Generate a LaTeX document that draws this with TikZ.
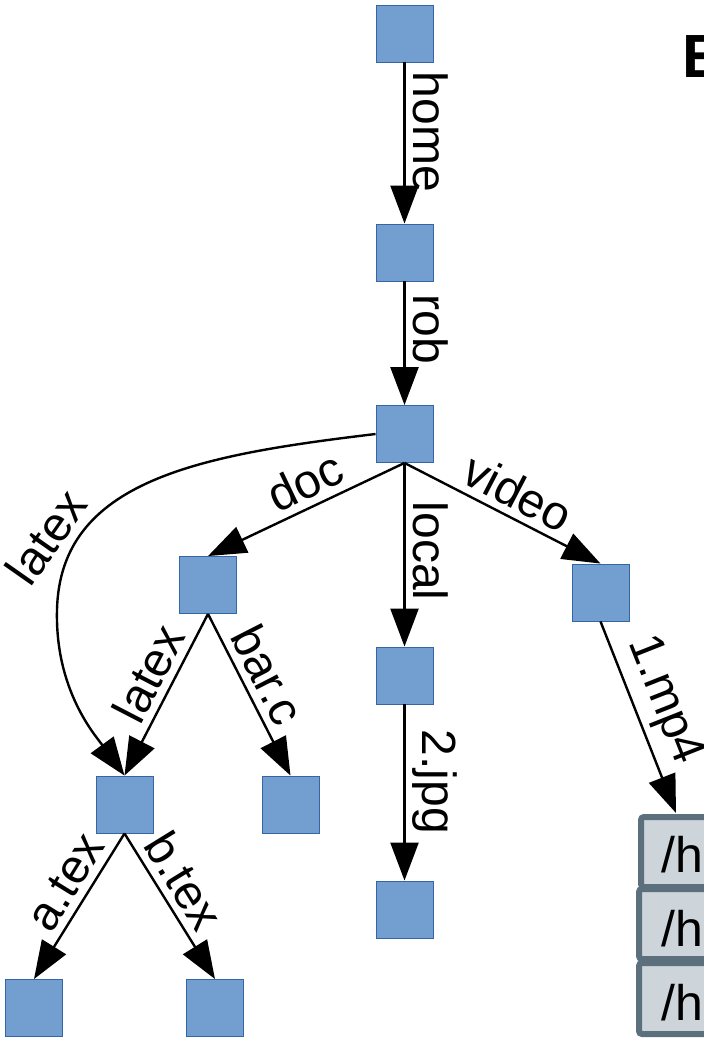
\documentclass[tikz,border=0pt]{standalone}
\usepackage{fontspec}
\setmainfont{Liberation Sans}
\usetikzlibrary{arrows.meta}
\definecolor{boxfill}{HTML}{729FCF}
\definecolor{boxline}{HTML}{3465A4}
\definecolor{pathfill}{HTML}{CDD4DA}
\definecolor{pathline}{HTML}{5C6F7C}
\begin{document}
\begin{tikzpicture}[x=1pt,y=-1pt,
  dirnode/.style={rectangle, draw=boxline, fill=boxfill, line width=0.9pt,
                  minimum size=57pt, inner sep=0pt},
  edge/.style={draw=black, line width=2.4pt, -{Triangle[length=38pt,width=28pt]}},
  lbl/.style={font=\fontsize{48}{52}\selectfont, inner sep=7pt},
  pathrow/.style={draw=pathline, fill=pathfill, line width=6pt, rounded corners=3pt},
  pathtext/.style={font=\fontsize{50}{53}\selectfont, inner sep=0pt, anchor=base west}
]
\useasboundingbox (0,0) rectangle (704,1042);

% directory tree nodes
\node[dirnode] (root)  at (404.5,33.5)  {};
\node[dirnode] (home)  at (404.5,252.5) {};
\node[dirnode] (rob)   at (404.5,434)   {};
\node[dirnode] (doc)   at (208,585)     {};
\node[dirnode] (local) at (404.5,675.5) {};
\node[dirnode] (video) at (600.5,592.5) {};
\node[dirnode] (latex) at (124.5,804.5) {};
\node[dirnode] (barc)  at (290.5,804.5) {};
\node[dirnode] (jpg)   at (404.5,909.5) {};
\node[dirnode] (atex)  at (34,1008)     {};
\node[dirnode] (btex)  at (215,1008)    {};

% path table on the right
\draw[pathrow] (641,817) rectangle (740,887);
\draw[pathrow] (639,889) rectangle (740,959);
\draw[pathrow] (639,963) rectangle (740,1034);
\node[pathtext] (p1) at (661,872)  {/h};
\node[pathtext] (p2) at (661,946)  {/h};
\node[pathtext] (p3) at (661,1020) {/h};
\coordinate (mpend) at (676,813);

% heading
\node[font=\fontsize{61}{64}\selectfont\bfseries, inner sep=0pt, anchor=base west]
  (title) at (682.5,77) {E};

% edges
\draw[edge] (root.south) -- node[lbl, pos=0.43, rotate=-90, anchor=south] {home} (home.north);
\draw[edge] (home.south) -- node[lbl, pos=0.39, rotate=-90, anchor=south] {rob} (rob.north);
\draw[edge] (rob.south) -- node[lbl, pos=0.45, rotate=25.6, anchor=south] {doc} (doc.north);
\draw[edge] (rob.south) -- node[lbl, pos=0.48, rotate=-90, anchor=south] {local} (local.north);
\draw[edge] (rob.south) -- node[lbl, pos=0.52, rotate=-27.5, anchor=south] {video} (video.north);
\draw[edge] (rob.west) .. controls (200,455) and (60,480) .. (57,610)
            .. controls (55,690) and (95,735) .. (latex.north);
\node[lbl, rotate=55] (curvelbl) at (46,537) {latex};
\draw[edge] (doc.south) -- node[lbl, pos=0.44, rotate=62.6, anchor=south] {latex} (latex.north);
\draw[edge] (doc.south) -- node[lbl, pos=0.45, rotate=-62.9, anchor=south] {bar.c} (barc.north);
\draw[edge] (local.south) -- node[lbl, pos=0.44, rotate=-90, anchor=south] {2.jpg} (jpg.north);
\draw[edge] (video.south) -- node[lbl, pos=0.47, rotate=-68.4, anchor=south] {1.mp4} (mpend);
\draw[edge] (latex.south) -- node[lbl, pos=0.42, rotate=58.3, anchor=south] {a.tex} (atex.north);
\draw[edge] (latex.south) -- node[lbl, pos=0.42, rotate=-58.3, anchor=south] {b.tex} (btex.north);
\end{tikzpicture}
\end{document}
